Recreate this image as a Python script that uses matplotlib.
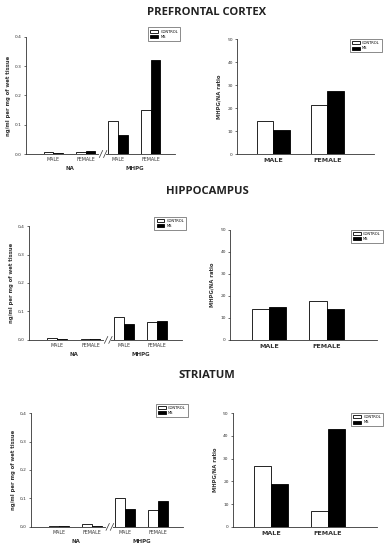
import matplotlib
matplotlib.use("Agg")
import matplotlib.pyplot as plt
from matplotlib.ticker import FuncFormatter
from matplotlib.transforms import blended_transform_factory
import numpy as np

plt.rcParams['font.family'] = ['DejaVu Sans']

# order of the left panels: NA male, NA female, MHPG male, MHPG female
regions = ["PREFRONTAL CORTEX", "HIPPOCAMPUS", "STRIATUM"]
sex_labels = ["MALE", "FEMALE"]
groups = ["NA", "MHPG"]

pfc_ctrl = [0.006, 0.006, 0.114, 0.150]
pfc_ms = [0.004, 0.010, 0.065, 0.320]
hip_ctrl = [0.005, 0.003, 0.080, 0.063]
hip_ms = [0.003, 0.003, 0.055, 0.065]
str_ctrl = [0.003, 0.009, 0.100, 0.060]
str_ms = [0.003, 0.003, 0.064, 0.090]

pfc_ratio_ctrl = [14.4, 21.3]
pfc_ratio_ms = [10.6, 27.3]
hip_ratio_ctrl = [14.1, 17.7]
hip_ratio_ms = [14.8, 14.1]
str_ratio_ctrl = [26.9, 6.9]
str_ratio_ms = [19.0, 42.8]

left_ctrl = [pfc_ctrl, hip_ctrl, str_ctrl]
left_ms = [pfc_ms, hip_ms, str_ms]
right_ctrl = [pfc_ratio_ctrl, hip_ratio_ctrl, str_ratio_ctrl]
right_ms = [pfc_ratio_ms, hip_ratio_ms, str_ratio_ms]

ink = "#333333"
fig = plt.figure(figsize=(3.92, 5.5), dpi=100)

# axes boxes in figure fraction (left, bottom, width, height)
left_boxes = [(0.066, 0.720, 0.380, 0.213),
              (0.074, 0.382, 0.390, 0.207),
              (0.079, 0.042, 0.388, 0.207)]
right_boxes = [(0.605, 0.720, 0.350, 0.209),
               (0.587, 0.382, 0.375, 0.200),
               (0.594, 0.042, 0.368, 0.207)]
title_y = [0.978, 0.652, 0.318]
dec_sep = [".", ",", ","]
w = 0.3


def style(ax):
    for s in ["top", "right"]:
        ax.spines[s].set_visible(False)
    for s in ["left", "bottom"]:
        ax.spines[s].set_linewidth(0.6)
        ax.spines[s].set_color(ink)
    ax.tick_params(axis="y", length=1.5, width=0.5, labelsize=3.2,
                   colors=ink, pad=1.5)
    ax.tick_params(axis="x", length=0)


for i in range(3):
    fig.text(0.528, title_y[i], regions[i], ha="center", va="center",
             fontsize=8.1, fontweight="bold", color="#222222",
             family=["Open Sans", "DejaVu Sans"])

    # left panel: concentrations
    ax = fig.add_axes(left_boxes[i])
    x = np.arange(4)
    ax.bar(x - w / 2, left_ctrl[i], w, color="white", edgecolor="black",
           linewidth=0.6, label="CONTROL")
    ax.bar(x + w / 2, left_ms[i], w, color="black", edgecolor="black",
           linewidth=0.6, label="MS")
    ax.set_xlim(-0.85, 3.75)
    ax.set_ylim(0, 0.4)
    ax.set_yticks([0, 0.1, 0.2, 0.3, 0.4])
    sep = dec_sep[i]
    ax.yaxis.set_major_formatter(
        FuncFormatter(lambda v, p, sep=sep: f"{v:.1f}".replace(".", sep)))
    ax.set_xticks(x)
    ax.set_xticklabels(sex_labels * 2, fontsize=3.4, color=ink)
    ax.tick_params(axis="x", pad=2)
    style(ax)
    ax.set_ylabel("ng/ml per mg of wet tissue", fontsize=3.8,
                  fontweight="bold", color=ink, labelpad=3)
    tr = blended_transform_factory(ax.transData, ax.transAxes)
    ax.text(0.5, -0.105, groups[0], transform=tr, ha="center", va="top",
            fontsize=4, fontweight="bold", color=ink)
    ax.text(2.5, -0.105, groups[1], transform=tr, ha="center", va="top",
            fontsize=4, fontweight="bold", color=ink)
    # axis break
    ax.plot([1.45, 1.6], [0, 0], transform=tr, color="white", lw=1.5,
            clip_on=False, zorder=5)
    for dx in (1.42, 1.55):
        ax.plot([dx, dx + 0.1], [-0.03, 0.03], transform=tr, color=ink,
                lw=0.5, clip_on=False, zorder=6)
    leg = ax.legend(loc="upper left", bbox_to_anchor=(0.82, 1.08),
                    fontsize=2.6, frameon=True, fancybox=False,
                    handlelength=2.2, handleheight=0.9, borderpad=0.6,
                    labelspacing=0.3, handletextpad=0.6, borderaxespad=0)
    leg.get_frame().set_edgecolor(ink)
    leg.get_frame().set_linewidth(0.5)

    # right panel: ratio
    ax = fig.add_axes(right_boxes[i])
    x2 = np.arange(2)
    ax.bar(x2 - w / 2, right_ctrl[i], w, color="white", edgecolor="black",
           linewidth=0.6, label="CONTROL")
    ax.bar(x2 + w / 2, right_ms[i], w, color="black", edgecolor="black",
           linewidth=0.6, label="MS")
    ax.set_xlim(-0.67, 1.87)
    ax.set_ylim(0, 50)
    ax.set_yticks([0, 10, 20, 30, 40, 50])
    ax.set_xticks(x2)
    ax.set_xticklabels(sex_labels, fontsize=4.6, fontweight="bold", color=ink)
    ax.tick_params(axis="x", pad=3)
    style(ax)
    ax.set_ylabel("MHPG/NA ratio", fontsize=3.8, fontweight="bold",
                  color=ink, labelpad=4)
    leg = ax.legend(loc="upper left", bbox_to_anchor=(0.82, 1.0),
                    fontsize=2.6, frameon=True, fancybox=False,
                    handlelength=2.2, handleheight=0.9, borderpad=0.6,
                    labelspacing=0.3, handletextpad=0.6, borderaxespad=0)
    leg.get_frame().set_edgecolor(ink)
    leg.get_frame().set_linewidth(0.5)

fig.savefig("out.png", dpi=100)
